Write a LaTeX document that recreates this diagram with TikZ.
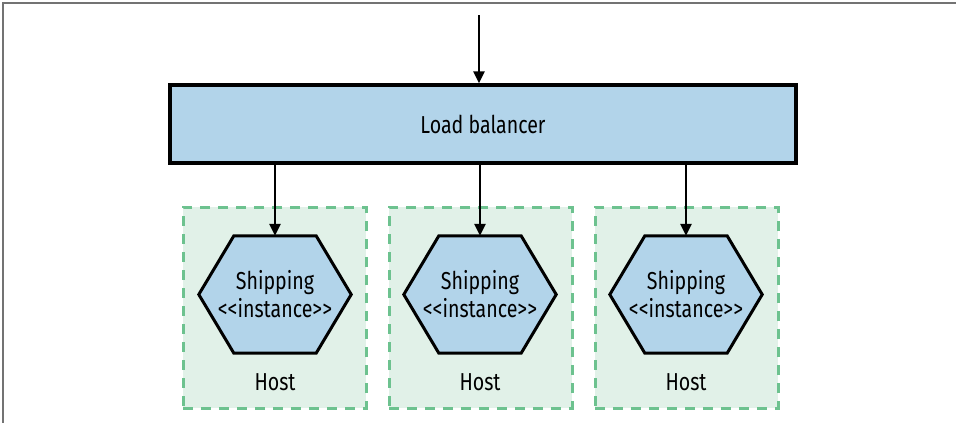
\documentclass[tikz,border=0pt]{standalone}
\usepackage{fontspec}
\setmainfont{Fira Sans}[FakeStretch=0.8]
\usetikzlibrary{arrows.meta, positioning, calc, backgrounds}

\definecolor{lbblue}{HTML}{B2D4EA}
\definecolor{hostfill}{HTML}{E1F1E8}
\definecolor{hostdash}{HTML}{6DC28F}

\begin{document}
\begin{tikzpicture}[
  x=1pt, y=-1pt,
  txt/.style={font=\fontsize{24.5}{28}\selectfont, align=center, inner sep=0pt},
  box/.style={rectangle, draw, line width=3.5pt, fill=lbblue, txt,
              minimum width=626pt, minimum height=78pt},
  hexa/.style={txt, minimum width=152pt, minimum height=117pt},
  hexline/.style={draw, line width=3pt, fill=lbblue, line join=miter},
  host/.style={rectangle, draw=hostdash, fill=hostfill, line width=3pt,
               dash pattern=on 10pt off 8pt,
               minimum width=183pt, minimum height=201pt},
  arrow/.style={-{Triangle[length=12pt, width=11pt]}, line width=2.5pt}
]
\useasboundingbox (0,0) rectangle (956,423);
\draw[black!55, line width=1.5pt] (3,423) -- (3,3) -- (956,3);

\node[box] (lb) at (483,124) {Load balancer};
\coordinate (entry) at (479,15);

\foreach \i/\x in {1/275, 2/480, 3/686} {
  \node[hexa] (ship\i) at (\x,294.5) {Shipping\\<{}<instance>{}>};
  \node[txt, below=20pt of ship\i] (hostlbl\i) {Host};
}

\begin{scope}[on background layer]
  \foreach \i/\x in {1/274.5, 2/480.5, 3/686.5}
    \node[host] (host\i) at (\x,307.5) {};
  \foreach \i in {1,2,3}
    \draw[hexline] (ship\i.west)
      -- ($(ship\i.north west)!0.23!(ship\i.north east)$)
      -- ($(ship\i.north west)!0.77!(ship\i.north east)$)
      -- (ship\i.east)
      -- ($(ship\i.south west)!0.77!(ship\i.south east)$)
      -- ($(ship\i.south west)!0.23!(ship\i.south east)$)
      -- cycle;
\end{scope}

\draw[arrow] (entry) -- (entry |- lb.north);
\foreach \i in {1,2,3}
  \draw[arrow] (lb.south -| ship\i.north) -- (ship\i.north);

\end{tikzpicture}
\end{document}
